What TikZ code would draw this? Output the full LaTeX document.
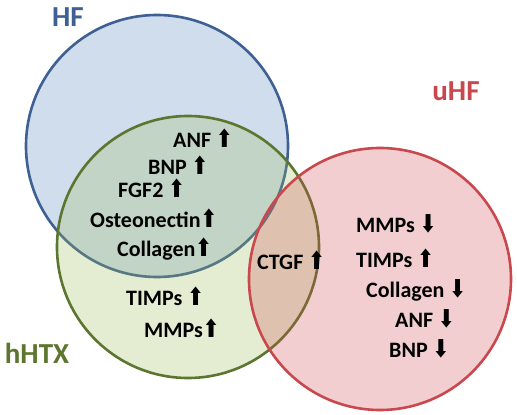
\documentclass[tikz,border=0pt]{standalone}
\usepackage{fontspec}
\usepackage{graphicx}
\setmainfont{Carlito}
\newfontfamily\arrowfont{DejaVu Sans}
\usetikzlibrary{positioning}
\definecolor{hffill}{RGB}{79, 129, 189}
\definecolor{hfline}{RGB}{62, 96, 146}
\definecolor{htxfill}{RGB}{155, 187, 89}
\definecolor{htxline}{RGB}{92, 118, 48}
\definecolor{uhffill}{RGB}{210, 75, 80}
\definecolor{uhfline}{RGB}{200, 72, 78}
\newcommand{\uparr}{\scalebox{0.9}[1.12]{\arrowfont\char"2B06}}
\newcommand{\downarr}{\scalebox{0.9}[1.12]{\arrowfont\char"2B07}}
\tikzset{
    venn/.style={
        circle,
        draw=#1line,
        fill=#1fill,
        fill opacity=0.27,
        line width=2.6pt,
        minimum size=262pt,
        inner sep=0pt,
        outer sep=0pt,
    },
    setlabel/.style={
        font=\fontsize{29}{32}\selectfont\bfseries,
        text=#1,
    },
    item/.style={
        anchor=base west,
        inner sep=0pt,
        font=\fontsize{22}{26}\selectfont\bfseries,
        text=black,
    },
}

\begin{document}
\begin{tikzpicture}[x=1pt, y=-1pt]
\useasboundingbox (0,0) rectangle (517,415);

% ===== 集合 =====
\node[venn=hf] (hf) at (157,146) {};
\node[venn=htx] (htx) at (188,247) {};
\node[venn=uhf] (uhf) at (380,279) {};

% ===== 集合名称 =====
\node[setlabel=hfline] (hflabel) at (68,17) {HF};
\node[setlabel=uhfline] (uhflabel) at (456,91) {uHF};
\node[setlabel=htxline] (htxlabel) at (37,353) {hHTX};

% ===== HF & hHTX =====
\node[item] (anfup) at (173,147) {ANF \uparr};
\node[item] (bnpup) at (148,174) {BNP \uparr};
\node[item] (fgfup) at (118,197) {FGF2 \uparr};
\node[item] (osteoup) at (90,227) {Osteonectin\uparr};
\node[item] (collup) at (117,256) {Collagen\uparr};

% ===== hHTX =====
\node[item] (timpup) at (126,305) {TIMPs \uparr};
\node[item] (mmpup) at (144,337) {MMPs\uparr};

% ===== hHTX & uHF =====
\node[item] (ctgfup) at (257,269) {CTGF \uparr};

% ===== uHF =====
\node[item] (mmpdown) at (356,232) {MMPs \downarr};
\node[item] (timpupu) at (356,267) {TIMPs \uparr};
\node[item] (colldown) at (366,297) {Collagen \downarr};
\node[item] (anfdown) at (395,327) {ANF \downarr};
\node[item] (bnpdown) at (389,357) {BNP \downarr};

\end{tikzpicture}
\end{document}
